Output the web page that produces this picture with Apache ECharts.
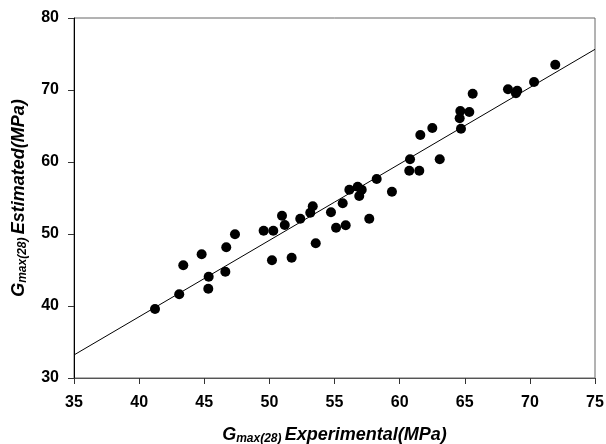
<!DOCTYPE html>
<html>
<head>
<meta charset="utf-8">
<script src="https://cdn.jsdelivr.net/npm/echarts@6/dist/echarts.min.js"></script>
<style>html,body{margin:0;padding:0;background:#fff}#c{width:606px;height:444px}</style>
</head>
<body>
<div id="c"></div>
<script>
// Experimental values (x) and estimated values (y)
const experimental = [41.22,43.08,43.39,44.80,45.34,45.31,46.69,46.62,47.36,49.56,50.30,50.20,50.97,51.18,51.71,52.37,53.14,53.33,53.56,54.73,55.12,55.86,55.63,56.14,56.78,57.09,56.90,57.67,58.24,59.41,60.80,60.74,61.51,61.59,62.51,63.08,64.71,64.61,64.66,65.35,65.61,68.32,68.93,69.03,70.32,71.95];
const estimated =    [39.58,41.63,45.65,47.18,44.07,42.40,48.15,44.76,49.96,50.46,50.46,46.35,52.54,51.25,46.71,52.13,52.96,53.85,48.71,53.01,50.88,51.21,54.26,56.15,56.57,56.15,55.28,52.13,57.64,55.88,60.38,58.79,58.79,63.75,64.72,60.38,64.63,66.07,67.08,66.94,69.49,70.10,69.54,69.90,71.11,73.51];
// Fitted line end points
const fitX = [35, 75];
const fitY = [33.2, 75.65];
const xTicks = [35,40,45,50,55,60,65,70,75];
const yTicks = [30,40,50,60,70,80];

const chart = echarts.init(document.getElementById('c'));
const labelFont = {fontFamily:'Liberation Sans, Arial, sans-serif', fontWeight:'bold', fontSize:16, color:'#000'};
const nameRich = {
  g:{fontFamily:'Liberation Sans',fontWeight:'bold',fontStyle:'italic',fontSize:18,color:'#000'},
  s:{fontFamily:'Liberation Sans',fontWeight:'bold',fontStyle:'italic',fontSize:12,color:'#000',padding:[7,0,0,0]},
  b:{fontFamily:'Liberation Sans',fontWeight:'bold',fontStyle:'italic',fontSize:18,color:'#000'}
};
chart.setOption({
  animation:false,
  backgroundColor:'#fff',
  grid:{left:74,top:18,right:11,bottom:66,containLabel:false,outerBoundsMode:'none',show:true,borderColor:'#666',borderWidth:1},
  xAxis:{
    type:'value',min:xTicks[0],max:xTicks[xTicks.length-1],interval:5,
    axisLine:{show:true,onZero:false,lineStyle:{color:'#555',width:1}},
    axisTick:{show:true,inside:false,length:6,lineStyle:{color:'#333'}},
    splitLine:{show:false},
    axisLabel:Object.assign({margin:17},labelFont),
    name:'{g|G}{s|max(28)} {b|Experimental(MPa)}',
    nameLocation:'middle',nameGap:48,
    nameTextStyle:{rich:nameRich}
  },
  yAxis:{
    type:'value',min:yTicks[0],max:yTicks[yTicks.length-1],interval:10,
    axisLine:{show:true,onZero:false,lineStyle:{color:'#000',width:1}},
    axisTick:{show:true,inside:false,length:6,lineStyle:{color:'#333'}},
    splitLine:{show:false},
    axisLabel:Object.assign({margin:15},labelFont),
    name:'{g|G}{s|max(28)} {b|Estimated(MPa)}',
    nameLocation:'middle',nameGap:45,nameRotate:90,
    nameTextStyle:{rich:nameRich}
  },
  series:[
    {type:'line',data:fitX.map((x,i)=>[x,fitY[i]]),symbol:'none',lineStyle:{color:'#000',width:1},z:1},
    {type:'scatter',data:experimental.map((x,i)=>[x,estimated[i]]),symbol:'circle',symbolSize:10,itemStyle:{color:'#000',opacity:1},z:2}
  ]
});
</script>
</body>
</html>
